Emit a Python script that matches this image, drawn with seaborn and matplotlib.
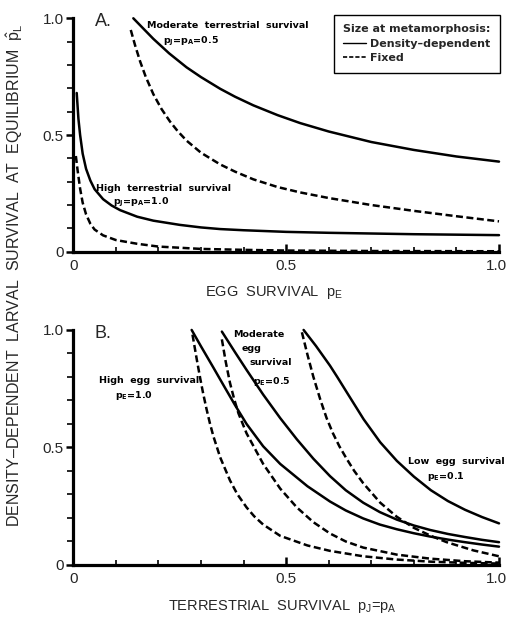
import numpy as np
import matplotlib.pyplot as plt
import matplotlib.transforms as mtransforms
import pandas as pd
import seaborn as sns

# ---- panel A: larval survival vs egg survival ----
a_mod_dd_x = [0.141, 0.165, 0.188, 0.225, 0.266, 0.3, 0.345, 0.38, 0.423, 0.48, 0.533, 0.6, 0.7, 0.8, 0.9, 1.0]
a_mod_dd_y = [1.0, 0.955, 0.912, 0.85, 0.79, 0.748, 0.698, 0.664, 0.627, 0.585, 0.551, 0.515, 0.47, 0.436,
              0.408, 0.386]
a_mod_fx_x = [0.135, 0.145, 0.157, 0.17, 0.188, 0.207, 0.227, 0.245, 0.266, 0.3, 0.345, 0.38, 0.423, 0.48,
              0.533, 0.6, 0.7, 0.8, 0.9, 1.0]
a_mod_fx_y = [0.95, 0.885, 0.815, 0.75, 0.675, 0.612, 0.558, 0.517, 0.476, 0.424, 0.374, 0.343, 0.31, 0.277,
              0.254, 0.23, 0.2, 0.175, 0.152, 0.13]
a_high_dd_x = [0.008, 0.012, 0.016, 0.022, 0.03, 0.04, 0.05, 0.07, 0.09, 0.11, 0.15, 0.188, 0.25, 0.3, 0.345,
               0.4, 0.5, 0.6, 0.7, 0.8, 0.9, 1.0]
a_high_dd_y = [0.68, 0.57, 0.5, 0.42, 0.355, 0.305, 0.268, 0.225, 0.198, 0.178, 0.15, 0.133, 0.115, 0.104,
               0.097, 0.092, 0.085, 0.081, 0.078, 0.075, 0.073, 0.071]
a_high_fx_x = [0.006, 0.01, 0.016, 0.022, 0.03, 0.04, 0.05, 0.07, 0.1, 0.15, 0.2, 0.3, 0.4, 0.5, 0.7, 1.0]
a_high_fx_y = [0.41, 0.35, 0.27, 0.21, 0.16, 0.12, 0.095, 0.07, 0.05, 0.034, 0.022, 0.012, 0.008,
               0.005, 0.003, 0.002]

# ---- panel B: larval survival vs terrestrial survival ----
b_low_dd_x = [0.541, 0.57, 0.603, 0.62, 0.643, 0.682, 0.721, 0.76, 0.8, 0.84, 0.88, 0.92, 0.96, 1.0]
b_low_dd_y = [1.0, 0.932, 0.848, 0.80, 0.733, 0.62, 0.522, 0.443, 0.376, 0.318, 0.272, 0.235, 0.204, 0.177]
b_low_fx_x = [0.537, 0.55, 0.564, 0.58, 0.595, 0.61, 0.625, 0.642, 0.66, 0.681, 0.721, 0.76, 0.8, 0.84,
              0.877, 0.94, 1.0]
b_low_fx_y = [0.99, 0.895, 0.80, 0.705, 0.625, 0.56, 0.505, 0.452, 0.40, 0.348, 0.265, 0.205, 0.158, 0.124,
              0.097, 0.062, 0.037]
b_mod_dd_x = [0.349, 0.38, 0.407, 0.446, 0.486, 0.525, 0.564, 0.603, 0.64, 0.681, 0.72, 0.76, 0.8, 0.838,
              0.88, 0.92, 0.96, 1.0]
b_mod_dd_y = [0.993, 0.905, 0.83, 0.725, 0.625, 0.535, 0.452, 0.378, 0.318, 0.265, 0.225, 0.193, 0.168,
              0.149, 0.132, 0.119, 0.107, 0.097]
b_mod_fx_x = [0.349, 0.358, 0.368, 0.378, 0.388, 0.407, 0.446, 0.486, 0.525, 0.564, 0.603, 0.64, 0.681,
              0.76, 0.838, 0.92, 1.0]
b_mod_fx_y = [0.96, 0.865, 0.775, 0.705, 0.645, 0.56, 0.43, 0.325, 0.245, 0.182, 0.134, 0.1, 0.074,
              0.044, 0.027, 0.016, 0.01]
b_high_dd_x = [0.278, 0.3, 0.329, 0.355, 0.38, 0.407, 0.446, 0.486, 0.55, 0.603, 0.64, 0.681, 0.72, 0.76,
               0.8, 0.838, 0.88, 0.92, 0.96, 1.0]
b_high_dd_y = [1.0, 0.93, 0.84, 0.758, 0.68, 0.6, 0.505, 0.43, 0.335, 0.27, 0.232, 0.198, 0.172, 0.152,
               0.135, 0.121, 0.108, 0.097, 0.087, 0.078]
b_high_fx_x = [0.28, 0.29, 0.298, 0.305, 0.313, 0.321, 0.329, 0.345, 0.368, 0.385, 0.407, 0.425, 0.446,
               0.486, 0.55, 0.603, 0.681, 0.76, 0.84, 0.92, 1.0]
b_high_fx_y = [0.98, 0.875, 0.795, 0.73, 0.663, 0.602, 0.548, 0.458, 0.36, 0.302, 0.245, 0.207, 0.172,
               0.124, 0.083, 0.06, 0.037, 0.023, 0.014, 0.009, 0.006]

tick_vals = [0, 0.5, 1.0]
tick_labels = ["0", "0.5", "1.0"]

sns.set_style("ticks")
plt.rcParams['font.family'] = ['Liberation Sans', 'DejaVu Sans']
plt.rcParams['mathtext.fontset'] = 'custom'
plt.rcParams['mathtext.rm'] = 'Liberation Sans'
plt.rcParams['mathtext.it'] = 'Liberation Sans'
plt.rcParams['mathtext.bf'] = 'DejaVu Sans:bold'

fig = plt.figure(figsize=(5.08, 6.18), dpi=100)
axA = fig.add_axes([0.1443, 0.5927, 0.838, 0.3777])
axB = fig.add_axes([0.1443, 0.0858, 0.838, 0.3803])

LW = 1.8
DASH = (2.8, 1.4)


def draw(ax, xs, ys, dashed):
    df = pd.DataFrame({"x": xs, "y": ys})
    sns.lineplot(data=df, x="x", y="y", ax=ax, color="black", linewidth=LW, sort=False,
                 estimator=None, clip_on=False)
    if dashed:
        ax.lines[-1].set_dashes(DASH)


draw(axA, a_mod_dd_x, a_mod_dd_y, False)
draw(axA, a_mod_fx_x, a_mod_fx_y, True)
draw(axA, a_high_dd_x, a_high_dd_y, False)
draw(axA, a_high_fx_x, a_high_fx_y, True)

draw(axB, b_low_dd_x, b_low_dd_y, False)
draw(axB, b_low_fx_x, b_low_fx_y, True)
draw(axB, b_mod_dd_x, b_mod_dd_y, False)
draw(axB, b_mod_fx_x, b_mod_fx_y, True)
draw(axB, b_high_dd_x, b_high_dd_y, False)
draw(axB, b_high_fx_x, b_high_fx_y, True)

for ax in (axA, axB):
    ax.set_xlim(0, 1)
    ax.set_ylim(0, 1)
    ax.set_xticks(tick_vals)
    ax.set_xticklabels(tick_labels)
    ax.set_yticks(tick_vals)
    ax.set_yticklabels(tick_labels)
    ax.set_xticks(np.arange(0.1, 1.0, 0.1), minor=True)
    ax.set_yticks(np.arange(0.1, 1.0, 0.1), minor=True)
    ax.tick_params(axis="both", which="major", labelsize=11, color="black")
    ax.tick_params(axis="y", which="major", direction="out", length=5, width=1.8, pad=2)
    ax.tick_params(axis="y", which="minor", direction="out", length=4, width=1.4)
    ax.tick_params(axis="x", which="major", direction="in", length=6, width=1.8, pad=5)
    ax.tick_params(axis="x", which="minor", direction="in", length=3.5, width=1.4)
    for s in ("top", "right"):
        ax.spines[s].set_visible(False)
    for s in ("left", "bottom"):
        ax.spines[s].set_linewidth(2.3)
        ax.spines[s].set_color("black")
    ax.set_ylabel("")
    ax.set_xlabel("")
    # nudge the "1.0" label so it stays inside the figure
    lbl = ax.get_xticklabels()[-1]
    lbl.set_transform(lbl.get_transform() + mtransforms.ScaledTranslation(-0.03, 0, fig.dpi_scale_trans))

axA.set_xlabel("EGG  SURVIVAL  $p_E$", fontsize=10.5)
axA.xaxis.set_label_coords(0.47, -0.14)
axB.set_xlabel("TERRESTRIAL  SURVIVAL  $p_J$=$p_A$", fontsize=10.5)
axB.xaxis.set_label_coords(0.49, -0.14)
fig.text(0.03, 0.555, r"DENSITY–DEPENDENT  LARVAL  SURVIVAL  AT  EQUILIBRIUM  $\hat{p}_L$",
         rotation=90, ha="center", va="center", fontsize=11.5)

ann = dict(fontsize=6.8, fontweight="bold", color="black", family="DejaVu Sans")
axA.text(0.05, 0.985, "A.", fontsize=13, va="center", transform=axA.transAxes)
axA.text(0.173, 0.97, "Moderate  terrestrial  survival", va="center", **ann)
axA.text(0.21, 0.90, r"$\mathbf{p}_\mathbf{J}$=$\mathbf{p}_\mathbf{A}$=0.5", va="center", **ann)
axA.text(0.053, 0.27, "High  terrestrial  survival", va="center", **ann)
axA.text(0.093, 0.21, r"$\mathbf{p}_\mathbf{J}$=$\mathbf{p}_\mathbf{A}$=1.0", va="center", **ann)

axB.text(0.05, 0.985, "B.", fontsize=13, va="center", transform=axB.transAxes)
axB.text(0.06, 0.785, "High  egg  survival", va="center", **ann)
axB.text(0.098, 0.72, r"$\mathbf{p}_\mathbf{E}$=1.0", va="center", **ann)
axB.text(0.375, 0.98, "Moderate", va="center", **ann)
axB.text(0.395, 0.92, "egg", va="center", **ann)
axB.text(0.415, 0.86, "survival", va="center", **ann)
axB.text(0.422, 0.78, r"$\mathbf{p}_\mathbf{E}$=0.5", va="center", **ann)
axB.text(0.787, 0.44, "Low  egg  survival", va="center", **ann)
axB.text(0.83, 0.375, r"$\mathbf{p}_\mathbf{E}$=0.1", va="center", **ann)

h_dd = plt.Line2D([], [], color="black", linewidth=1.0)
h_fx = plt.Line2D([], [], color="black", linewidth=1.2, dashes=(2.5, 1.2))
legfont = {"size": 8, "weight": "bold", "family": "DejaVu Sans"}
leg = axA.legend([h_dd, h_fx], ["Density–dependent", "Fixed"], title="Size at metamorphosis:",
                 loc="upper right", bbox_to_anchor=(1.003, 1.014), frameon=True, fancybox=False,
                 prop=legfont, title_fontproperties=legfont,
                 handlelength=2.0, handletextpad=0.4, borderpad=0.85, labelspacing=0.4,
                 alignment="left", borderaxespad=0)
leg.get_frame().set_edgecolor("black")
leg.get_frame().set_linewidth(1.0)
leg.get_frame().set_alpha(1)

plt.savefig("out.png", dpi=100)
